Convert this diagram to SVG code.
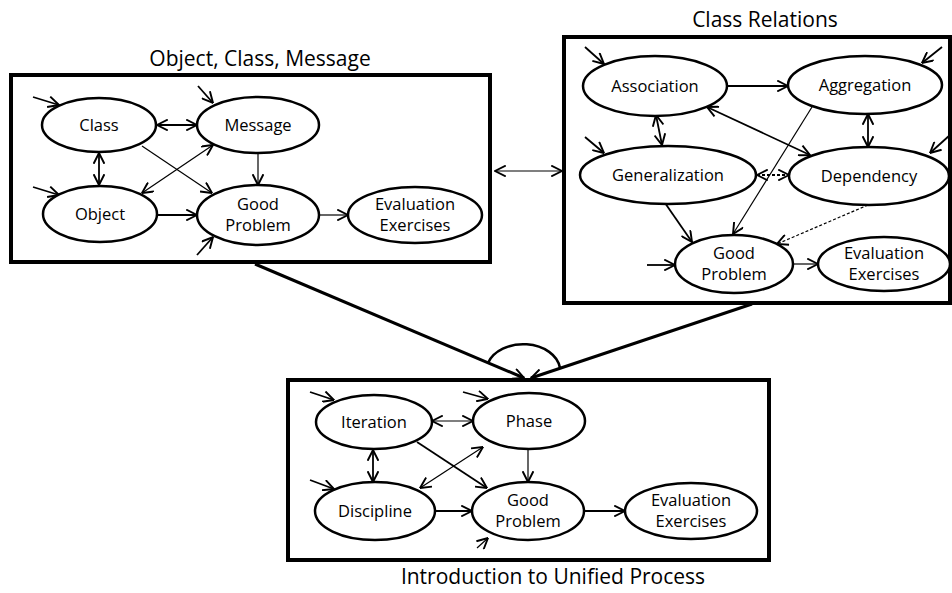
<svg xmlns="http://www.w3.org/2000/svg" width="952" height="593" viewBox="0 0 952 593">
<style>
  .box { fill: none; stroke: #000; stroke-width: 4; }
  .node ellipse { fill: #fff; stroke: #000; stroke-width: 2.5; }
  text { font-family: "Open Sans", "Liberation Sans", sans-serif; fill: #000; text-anchor: middle; }
  .lbl { font-size: 16.5px; }
  .title { font-size: 21px; }
  .e { fill: none; stroke: #000; stroke-width: 1.8; marker-end: url(#ah); }
  .t { stroke-width: 1.2; }
  .d { marker-start: url(#ah); }
  .k { stroke-width: 3; }
  .ds { stroke-dasharray: 3 2; }
</style>
<defs>
  <marker id="ah" markerUnits="userSpaceOnUse" markerWidth="12" markerHeight="12" viewBox="0 0 10 10" refX="9.5" refY="5" orient="auto-start-reverse">
    <path d="M0.5,0.5 L9.5,5 L0.5,9.5" fill="none" stroke="#000" stroke-width="1.6"/>
  </marker>
</defs>

<rect x="0" y="0" width="952" height="593" fill="#fff"/>

<!-- titles -->
<text class="title" x="260" y="66">Object, Class, Message</text>
<text class="title" x="765" y="27">Class Relations</text>
<text class="title" x="553" y="584">Introduction to Unified Process</text>

<!-- boxes -->
<g id="box-ocm"><rect class="box" x="11" y="75" width="479" height="187"/></g>
<g id="box-cr"><rect class="box" x="564" y="37" width="386" height="266"/></g>
<g id="box-up"><rect class="box" x="288" y="380" width="481" height="180"/></g>

<g id="connectors">
  <!-- box 1 -->
  <path class="e d" d="M157,125 L197,125"/>
  <path class="e d" d="M99,153 L99,185"/>
  <path class="e t" d="M142,146 L212,193"/>
  <path class="e t d" d="M213,145 L142,193"/>
  <path class="e t" d="M258,153 L258,185"/>
  <path class="e" d="M158,215 L197,215"/>
  <path class="e t" d="M320,215 L348,215"/>
  <path class="e" d="M33,97 L59,105"/>
  <path class="e" d="M198,86 L213,103"/>
  <path class="e" d="M33,187 L59,195"/>
  <path class="e" d="M197,255 L213,237"/>
  <!-- box 1 to box 2 -->
  <path class="e t d" d="M495,171 L562,171"/>
  <!-- box 2 -->
  <path class="e" d="M728,86 L788,86"/>
  <path class="e d" d="M656,115 L662,145"/>
  <path class="e d" d="M868,114 L868,147"/>
  <path class="e d" d="M707,107 L810,155"/>
  <path class="e d ds" d="M757,175 L789,175"/>
  <path class="e t" d="M812,107 L733,234"/>
  <path class="e" d="M665,203 L692,242"/>
  <path class="e t ds" d="M868,205 L777,244"/>
  <path class="e t" d="M793,264 L818,264"/>
  <path class="e" d="M647,265 L675,265"/>
  <path class="e" d="M585,47 L604,64"/>
  <path class="e" d="M585,137 L604,153"/>
  <path class="e" d="M942,47 L922,63"/>
  <path class="e" d="M950,135 L930,153"/>
  <!-- box 3 -->
  <path class="e t d" d="M432,421 L473,421"/>
  <path class="e d" d="M373,450 L373,482"/>
  <path class="e" d="M417,442 L487,488"/>
  <path class="e t d" d="M483,447 L420,488"/>
  <path class="e t" d="M528,449 L528,482"/>
  <path class="e" d="M435,511 L472,511"/>
  <path class="e" d="M584,511 L625,511"/>
  <path class="e" d="M310,392 L334,400"/>
  <path class="e" d="M463,392 L488,399"/>
  <path class="e" d="M310,480 L334,489"/>
  <path class="e t" d="M477,548 L488,538"/>
  <!-- big connectors into Unified Process -->
  <path class="e k" d="M255,264 L524,378"/>
  <path class="e k" d="M752,304 L531,378"/>
  <path d="M488,363 A37,27 0 0 1 560,368" fill="none" stroke="#000" stroke-width="2.5"/>
</g>

<!-- box 1 nodes -->
<g id="class" class="node"><ellipse cx="99" cy="125" rx="57" ry="27"/><text class="lbl" x="99" y="131">Class</text></g>
<g id="message" class="node"><ellipse cx="258" cy="125" rx="61" ry="28"/><text class="lbl" x="258" y="131">Message</text></g>
<g id="object" class="node"><ellipse cx="100" cy="214" rx="57" ry="28"/><text class="lbl" x="100" y="220">Object</text></g>
<g id="goodproblem1" class="node"><ellipse cx="258" cy="215" rx="61" ry="30"/><text class="lbl" x="258" y="210">Good</text><text class="lbl" x="258" y="231">Problem</text></g>
<g id="evaluation1" class="node"><ellipse cx="415" cy="215" rx="67" ry="28"/><text class="lbl" x="415" y="210">Evaluation</text><text class="lbl" x="415" y="231">Exercises</text></g>

<!-- box 2 nodes -->
<g id="association" class="node"><ellipse cx="655" cy="86" rx="72" ry="30"/><text class="lbl" x="655" y="92">Association</text></g>
<g id="aggregation" class="node"><ellipse cx="865" cy="85" rx="77" ry="29"/><text class="lbl" x="865" y="91">Aggregation</text></g>
<g id="generalization" class="node"><ellipse cx="668" cy="175" rx="88" ry="29"/><text class="lbl" x="668" y="181">Generalization</text></g>
<g id="dependency" class="node"><ellipse cx="869" cy="176" rx="80" ry="29"/><text class="lbl" x="869" y="182">Dependency</text></g>
<g id="goodproblem2" class="node"><ellipse cx="734" cy="264" rx="59" ry="29"/><text class="lbl" x="734" y="259">Good</text><text class="lbl" x="734" y="280">Problem</text></g>
<g id="evaluation2" class="node"><ellipse cx="884" cy="264" rx="66" ry="27"/><text class="lbl" x="884" y="259">Evaluation</text><text class="lbl" x="884" y="280">Exercises</text></g>

<!-- box 3 nodes -->
<g id="iteration" class="node"><ellipse cx="374" cy="422" rx="58" ry="27"/><text class="lbl" x="374" y="428">Iteration</text></g>
<g id="phase" class="node"><ellipse cx="529" cy="421" rx="56" ry="28"/><text class="lbl" x="529" y="427">Phase</text></g>
<g id="discipline" class="node"><ellipse cx="375" cy="511" rx="60" ry="29"/><text class="lbl" x="375" y="517">Discipline</text></g>
<g id="goodproblem3" class="node"><ellipse cx="528" cy="511" rx="56" ry="29"/><text class="lbl" x="528" y="506">Good</text><text class="lbl" x="528" y="527">Problem</text></g>
<g id="evaluation3" class="node"><ellipse cx="691" cy="511" rx="66" ry="28"/><text class="lbl" x="691" y="506">Evaluation</text><text class="lbl" x="691" y="527">Exercises</text></g>
</svg>
